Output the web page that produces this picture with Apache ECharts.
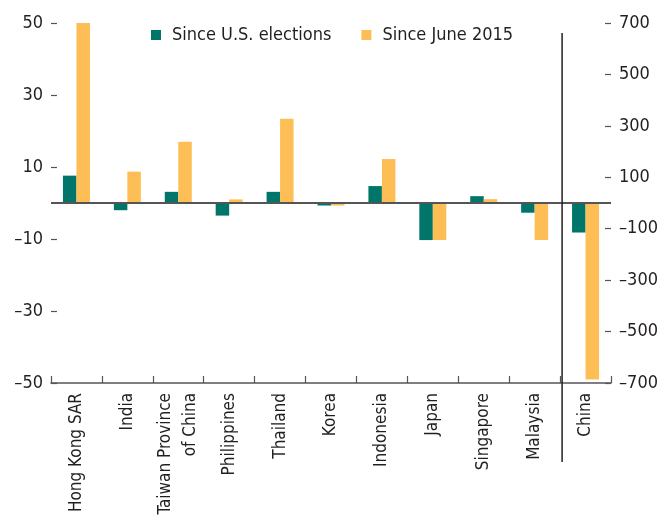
<!DOCTYPE html>
<html>
<head>
<meta charset="utf-8">
<script src="https://cdn.jsdelivr.net/npm/echarts@6/dist/echarts.min.js"></script>
<style>
html,body{margin:0;padding:0;background:#fff;}
#chart{width:663px;height:520px;}
</style>
</head>
<body>
<div id="chart"></div>
<script>
var categories = ['Hong Kong SAR','India','Taiwan Province\nof China','Philippines','Thailand','Korea','Indonesia','Japan','Singapore','Malaysia','China'];
var sinceElections = [7.6, -2.0, 3.1, -3.5, 3.1, -0.7, 4.7, -10.3, 1.9, -2.7, -8.2];
var sinceJune2015 = [700, 122, 238, 14, 328, -10, 171, -144, 15, -144, -686];
var leftTicks = [-50, -30, -10, 10, 30, 50];
var rightTicks = [-700, -500, -300, -100, 100, 300, 500, 700];
var seriesNames = ['Since U.S. elections', 'Since June 2015'];

var FONT = '"DejaVu Sans Condensed", "Liberation Sans Narrow", sans-serif';
var TXT = '#231f20';
var AX = '#555555';
function dash(v){ return String(v).replace('-', '\u2013'); }

var chart = echarts.init(document.getElementById('chart'), null, {renderer:'canvas'});
var option = {
  animation: false,
  backgroundColor: '#ffffff',
  textStyle: {fontFamily: FONT},
  legend: {
    left: 146, top: 21,
    itemWidth: 10, itemHeight: 10, itemGap: 30,
    icon: 'rect',
    textStyle: {fontFamily: FONT, fontSize: 18, color: TXT, padding: [0,0,0,6]},
    data: seriesNames
  },
  grid: {left: 51, right: 52, top: 23, bottom: 137, containLabel: false},
  xAxis: {
    type: 'category',
    data: categories,
    axisLine: {onZero: false, lineStyle: {color: AX, width: 1.5}},
    axisTick: {show: true, inside: true, length: 7, interval: 0, lineStyle: {color: AX, width: 1.2}},
    axisLabel: {rotate: 90, interval: 0, margin: 10, fontFamily: FONT, fontSize: 17, color: TXT, lineHeight: 25}
  },
  yAxis: [{
    type: 'value', min: -50, max: 50,
    splitLine: {show: false},
    axisLine: {show: false},
    axisTick: {show: true, inside: true, length: 6, customValues: leftTicks, lineStyle: {color: AX, width: 1.2}},
    axisLabel: {customValues: leftTicks, margin: 8, fontFamily: FONT, fontSize: 18, color: TXT, formatter: dash}
  }, {
    type: 'value', min: -700, max: 700, position: 'right',
    splitLine: {show: false},
    axisLine: {show: false},
    axisTick: {show: true, inside: true, length: 6, customValues: rightTicks, lineStyle: {color: AX, width: 1.2}},
    axisLabel: {customValues: rightTicks, margin: 8, fontFamily: FONT, fontSize: 18, color: TXT, formatter: dash}
  }],
  series: [{
    name: seriesNames[0], type: 'bar', yAxisIndex: 0,
    data: sinceElections, barWidth: 13.5, barGap: '0%',
    itemStyle: {color: '#00766a'},
    markLine: {
      silent: true, symbol: 'none', z: 10,
      label: {show: false},
      lineStyle: {color: AX, width: 1.8, type: 'solid'},
      data: [{yAxis: 0}]
    }
  }, {
    name: seriesNames[1], type: 'bar', yAxisIndex: 1,
    data: sinceJune2015, barWidth: 13.5, barGap: '0%',
    itemStyle: {color: '#fdbe55'}
  }]
};
chart.setOption(option);

var xa = chart.convertToPixel({xAxisIndex: 0}, categories[9]);
var xb = chart.convertToPixel({xAxisIndex: 0}, categories[10]);
var yTop = chart.convertToPixel({yAxisIndex: 0}, 50);
var yBot = chart.convertToPixel({yAxisIndex: 0}, -50);
var sx = (xa + xb) / 2 + 2;
chart.setOption({
  graphic: [{
    type: 'line', z: 100,
    shape: {x1: sx, y1: yTop + 10, x2: sx, y2: yBot + 79},
    style: {stroke: '#231f20', lineWidth: 1.5}
  }]
});
</script>
</body>
</html>
